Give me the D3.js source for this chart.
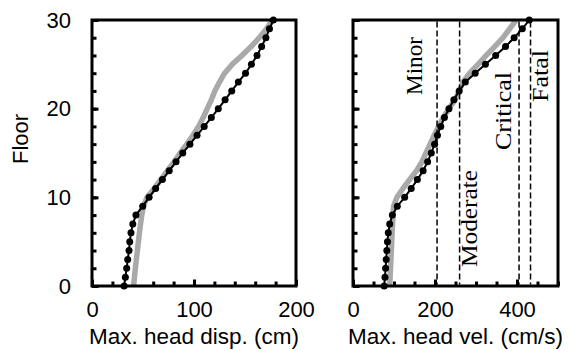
<!DOCTYPE html>
<html><head><meta charset="utf-8">
<script src="https://cdn.jsdelivr.net/npm/d3@7"></script>
<style>
html,body{margin:0;padding:0;background:#fff;}
svg{display:block;}
</style></head>
<body>
<svg id="chart" width="569" height="351"></svg>
<script>
// ---------- data ----------
const floors = [0,1,2,3,4,5,6,7,8,9,10,11,12,13,14,15,16,17,18,19,20,21,22,23,24,25,26,27,28,29,30];
// Max. head displacement (cm)
const dispModel = [31.5,32.7,34,35,36.3,37,38.2,40,43.1,49.7,56,62.4,69,75.7,82.4,89,96,103,110,117,123.8,130.5,137,143.5,150.5,156.3,161.8,166.3,170.5,174,177.8];
const dispRef   = [40.8,41.6,42.5,43.5,44.5,45.5,46.5,47.6,48.8,50.5,54,61,67.5,74,80.5,86.5,93,99,104.5,109,113,117,120.5,125,130,137.5,147,156,164,171,177];
// Max. head velocity (cm/s)
const velModel = [76,78,79.5,81,82.5,84,86,89.5,96,108,126,142,157,171,182,191,199,206,214,223,234,246,259,274,298,323,348,372,393,413,430];
const velRef   = [89.5,90.5,91.5,92.5,93.5,94.5,95.5,96.5,97.6,99,107,122,138,155,168,178,188,198,209,220,234,249,259,268,284.6,305,325,345.6,366,382,398];
const thresholds = [205,260,405,433];
const thresholdLabels = ["Minor","Moderate","Critical","Fatal"];
const yTicksMajor = [0,10,20,30];
const yTicksMinor = [0,2,4,6,8,10,12,14,16,18,20,22,24,26,28,30];
const dispTicksMajor = [0,100,200];
const dispTicksMinor = [0,20,40,60,80,100,120,140,160,180,200];
const velTicksMajor = [0,200,400];
const velTicksMinor = [0,50,100,150,200,250,300,350,400,450,500];

// ---------- layout ----------
const svg = d3.select("#chart");
const yTop = 20, yBot = 286;
const FONT = "'Liberation Sans', Arial, Helvetica, sans-serif";
const SERIF = "'Liberation Serif', 'Times New Roman', serif";
const y = d3.scaleLinear().domain([0,30]).range([yBot, yTop]);

function panel(x0, x1, xmax, modelVals, refVals, majT, minT, showY, xTitle) {
  const x = d3.scaleLinear().domain([0,xmax]).range([x0,x1]);
  const g = svg.append("g");

  const minX = g.append("g").attr("transform",`translate(0,${yBot})`)
    .call(d3.axisBottom(x).tickValues(minT).tickSize(-4.5).tickFormat(""));
  const majX = g.append("g").attr("transform",`translate(0,${yBot})`)
    .call(d3.axisBottom(x).tickValues(majT).tickSize(-6.5).tickPadding(15));
  const minY = g.append("g").attr("transform",`translate(${x0},0)`)
    .call(d3.axisLeft(y).tickValues(yTicksMinor).tickSize(-4.5).tickFormat(""));
  const majY = g.append("g").attr("transform",`translate(${x0},0)`)
    .call(d3.axisLeft(y).tickValues(yTicksMajor).tickSize(-6.5).tickPadding(21)
      .tickFormat(showY ? d3.format("d") : ""));
  [minX,majX,minY,majY].forEach(a=>{
    a.select(".domain").remove();
    a.selectAll(".tick line").attr("stroke","#000").attr("stroke-width",3);
    a.selectAll("text").attr("font-family",FONT).attr("font-size",22).attr("fill","#000");
  });

  const line = d3.line().x(d=>x(d[0])).y(d=>y(d[1]));
  g.append("path").datum(refVals.map((v,i)=>[v,floors[i]]))
    .attr("d",line).attr("fill","none").attr("stroke","#a9a9a9")
    .attr("stroke-width",5.5).attr("stroke-linejoin","round");
  g.append("path").datum(modelVals.map((v,i)=>[v,floors[i]]))
    .attr("d",line).attr("fill","none").attr("stroke","#000").attr("stroke-width",2);
  g.selectAll("circle.dot").data(modelVals).join("circle")
    .attr("class","dot").attr("cx",d=>x(d)).attr("cy",(d,i)=>y(floors[i])).attr("r",3.5).attr("fill","#000");

  g.append("rect").attr("x",x0).attr("y",yTop).attr("width",x1-x0).attr("height",yBot-yTop)
    .attr("fill","none").attr("stroke","#000").attr("stroke-width",3);

  svg.append("text").attr("x",(x0+x1)/2).attr("y",344).attr("text-anchor","middle")
    .attr("font-family",FONT).attr("font-size",22.5).attr("fill","#000").text(xTitle);
  return x;
}

panel(92, 296, 200, dispModel, dispRef, dispTicksMajor, dispTicksMinor, true, "Max. head disp. (cm)");
const xv = panel(353, 558, 500, velModel, velRef, velTicksMajor, velTicksMinor, false, "Max. head vel. (cm/s)");

svg.append("g").selectAll("line").data(thresholds).join("line")
  .attr("x1",d=>xv(d)).attr("x2",d=>xv(d)).attr("y1",yTop+1.5).attr("y2",yBot-1.5)
  .attr("stroke","#000").attr("stroke-width",1.5).attr("stroke-dasharray","6,3");

const labelLayout = [[-15,66,58],[17,218.5,97],[-8,111,78],[17,76,52]];
svg.append("g").selectAll("text").data(thresholdLabels).join("text")
  .attr("transform",(d,i)=>`translate(${xv(thresholds[i])+labelLayout[i][0]},${labelLayout[i][1]}) rotate(-90)`)
  .attr("text-anchor","middle").attr("font-family",SERIF).attr("font-size",24)
  .attr("textLength",(d,i)=>labelLayout[i][2]).attr("lengthAdjust","spacingAndGlyphs")
  .attr("fill","#000").text(d=>d);

svg.append("text").attr("transform","translate(28,139) rotate(-90)").attr("text-anchor","middle")
  .attr("font-family",FONT).attr("font-size",22).attr("fill","#000").text("Floor");
</script>
</body></html>
